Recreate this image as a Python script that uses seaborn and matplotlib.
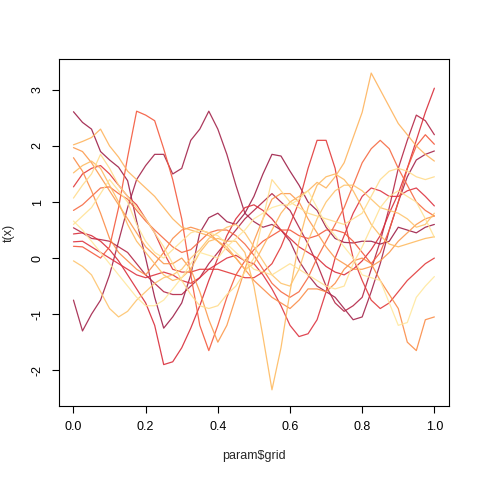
import pandas as pd
import seaborn as sns
import numpy as np
import matplotlib.pyplot as plt

# evaluation grid (param$grid) and curve values
grid = [0.0, 0.025, 0.05, 0.075, 0.1, 0.125, 0.15, 0.175, 0.2, 0.225,
        0.25, 0.275, 0.3, 0.325, 0.35, 0.375, 0.4, 0.425, 0.45, 0.475,
        0.5, 0.525, 0.55, 0.575, 0.6, 0.625, 0.65, 0.675, 0.7, 0.725,
        0.75, 0.775, 0.8, 0.825, 0.85, 0.875, 0.9, 0.925, 0.95, 0.975,
        1.0]

crimson_a = [2.61, 2.42, 2.30, 1.90, 1.75, 1.62, 1.38, 0.66, 0.00, -0.70,
             -1.25, -1.05, -0.80, -0.30, 0.45, 0.72, 0.80, 0.65, 0.60, 0.80,
             1.10, 1.50, 1.85, 1.82, 1.55, 1.30, 1.00, 0.85, 0.55, 0.35,
             0.28, 0.27, 0.30, 0.30, 0.25, 0.30, 0.55, 0.50, 0.45, 0.55,
             0.60]
crimson_b = [-0.75, -1.30, -1.00, -0.75, -0.30, 0.30, 0.90, 1.40, 1.65, 1.85,
             1.85, 1.50, 1.60, 2.10, 2.30, 2.62, 2.30, 1.85, 1.30, 0.80,
             0.65, 0.55, 0.60, 0.50, 0.30, -0.05, -0.30, -0.50, -0.60, -0.70,
             -0.90, -1.10, -1.05, -0.60, -0.10, 0.50, 1.00, 1.45, 1.75, 1.85,
             1.91]
crimson_c = [0.54, 0.45, 0.35, 0.33, 0.30, 0.20, 0.10, -0.10, -0.30, -0.45,
             -0.60, -0.65, -0.65, -0.50, -0.35, -0.10, 0.10, 0.30, 0.50, 0.70,
             0.85, 1.00, 1.15, 1.00, 0.85, 0.55, 0.25, -0.10, -0.50, -0.80,
             -0.95, -0.85, -0.70, -0.20, 0.30, 0.90, 1.60, 2.10, 2.55, 2.45,
             2.20]
red_dip = [0.43, 0.45, 0.40, 0.30, 0.15, -0.05, -0.30, -0.55, -0.80, -1.20,
           -1.90, -1.85, -1.60, -1.25, -0.85, -0.40, 0.00, 0.40, 0.70, 0.90,
           0.95, 0.85, 0.70, 0.50, 0.35, 0.20, 0.10, 0.00, -0.15, -0.25,
           -0.30, -0.20, -0.05, 0.15, 0.40, 0.80, 1.15, 1.60, 2.10, 2.60,
           3.03]
red_hump = [1.27, 1.50, 1.60, 1.65, 1.50, 1.30, 1.10, 0.95, 0.70, 0.45,
            0.10, -0.20, -0.25, -0.25, -0.20, -0.20, -0.20, -0.25, -0.30, -0.35,
            -0.35, -0.25, -0.10, 0.20, 0.60, 1.00, 1.60, 2.10, 2.10, 1.60,
            0.70, 0.00, -0.40, -0.75, -0.90, -0.80, -0.60, -0.40, -0.25, -0.10,
            0.00]
red_low = [0.29, 0.30, 0.20, 0.10, 0.00, -0.10, -0.20, -0.30, -0.35, -0.30,
           -0.25, -0.30, -0.40, -0.45, -0.35, -0.20, -0.10, 0.00, 0.05, -0.05,
           -0.10, -0.30, -0.55, -0.85, -1.20, -1.40, -1.35, -1.10, -0.60, 0.00,
           0.40, 0.80, 1.10, 1.25, 1.20, 1.10, 1.10, 1.20, 1.25, 1.10,
           0.93]
orangered_peak = [0.21, 0.20, 0.10, 0.00, 0.20, 0.90, 1.80, 2.62, 2.55, 2.45,
                  1.95, 1.40, 0.70, -0.30, -1.20, -1.65, -1.20, -0.70, -0.30, -0.05,
                  0.15, 0.30, 0.40, 0.50, 0.50, 0.40, 0.35, 0.40, 0.50, 0.50,
                  0.45, 0.30, 0.10, -0.10, 0.10, 0.50, 1.00, 1.60, 2.00, 2.20,
                  2.03]
orangered_hump = [0.85, 0.95, 1.10, 1.25, 1.27, 1.15, 1.05, 0.85, 0.66, 0.50,
                  0.35, 0.20, 0.10, 0.15, 0.30, 0.45, 0.50, 0.50, 0.40, 0.25,
                  0.05, -0.20, -0.45, -0.60, -0.70, -0.60, -0.35, 0.00, 0.30, 0.60,
                  0.90, 1.30, 1.70, 1.95, 2.10, 1.95, 1.60, 1.30, 1.00, 0.85,
                  0.75]
orange_a = [1.79, 1.55, 1.20, 0.80, 0.35, 0.10, -0.05, -0.20, -0.30, -0.10,
            0.10, 0.35, 0.50, 0.55, 0.50, 0.45, 0.30, 0.15, 0.00, -0.20,
            -0.40, -0.55, -0.70, -0.80, -0.90, -0.75, -0.55, -0.55, -0.60, -0.45,
            -0.20, -0.05, 0.00, -0.10, -0.40, -0.65, -0.90, -1.50, -1.65, -1.10,
            -1.05]
orange_b = [1.97, 1.90, 1.70, 1.45, 1.20, 0.95, 0.70, 0.45, 0.20, 0.05,
            -0.10, -0.10, 0.00, -0.20, -0.60, -1.10, -1.50, -1.20, -0.70, -0.20,
            0.30, 0.70, 1.05, 1.15, 1.15, 1.00, 0.70, 0.45, 0.20, 0.00,
            -0.10, -0.20, -0.20, -0.15, -0.05, 0.10, 0.30, 0.45, 0.60, 0.70,
            0.75]
lightorange_a = [2.02, 2.08, 2.15, 2.30, 2.00, 1.80, 1.55, 1.40, 1.25, 1.10,
                 0.90, 0.70, 0.55, 0.50, 0.45, 0.40, 0.30, 0.20, 0.00, -0.20,
                 -0.10, 0.20, 0.50, 0.80, 1.00, 1.10, 1.20, 1.35, 1.25, 1.45,
                 1.70, 2.15, 2.60, 3.30, 3.00, 2.70, 2.40, 2.20, 2.00, 1.85,
                 1.73]
lightorange_b = [1.52, 1.65, 1.73, 1.60, 1.30, 1.00, 0.60, 0.30, 0.10, -0.10,
                 -0.30, -0.40, -0.35, -0.20, 0.10, 0.30, 0.35, 0.30, 0.30, 0.10,
                 -0.50, -1.40, -2.35, -1.60, -0.60, 0.30, 0.90, 1.30, 1.45, 1.50,
                 1.40, 1.20, 0.90, 0.60, 0.40, 0.25, 0.20, 0.25, 0.30, 0.35,
                 0.38]
lightorange_c = [-0.05, -0.15, -0.30, -0.60, -0.90, -1.05, -0.95, -0.75, -0.60, -0.45,
                 -0.35, -0.30, -0.20, 0.00, 0.15, 0.35, 0.45, 0.55, 0.60, 0.45,
                 0.20, -0.05, -0.30, -0.45, -0.50, -0.20, 0.30, 0.70, 1.00, 1.20,
                 1.30, 1.30, 1.20, 1.05, 0.90, 0.85, 0.80, 0.70, 0.55, 0.60,
                 0.80]
pale_a = [1.07, 1.30, 1.50, 1.85, 1.60, 1.30, 1.10, 0.90, 0.70, 0.45,
          0.20, -0.10, -0.40, -0.65, -0.85, -0.90, -0.85, -0.65, -0.50, -0.25,
          0.00, 0.70, 1.40, 1.20, 1.00, 0.90, 0.80, 0.75, 0.70, 0.65,
          0.60, 0.70, 0.80, 1.10, 1.40, 1.55, 1.60, 1.55, 1.45, 1.40,
          1.45]
pale_b = [0.66, 0.50, 0.30, 0.10, -0.10, -0.30, -0.50, -0.70, -0.85, -0.85,
          -0.75, -0.55, -0.35, -0.10, 0.10, 0.05, 0.00, 0.20, 0.35, 0.50,
          0.70, 0.80, 0.90, 0.95, 0.95, 1.05, 1.20, 0.90, 0.60, 0.40,
          0.20, 0.00, -0.30, -0.35, -0.40, -0.80, -1.20, -1.15, -0.70, -0.50,
          -0.33]
pale_c = [0.60, 0.75, 0.90, 1.15, 1.40, 1.20, 1.00, 0.60, 0.30, 0.10,
          0.00, 0.15, 0.30, 0.45, 0.50, 0.45, 0.40, 0.25, 0.10, -0.05,
          -0.20, -0.25, -0.30, -0.20, -0.10, -0.20, -0.30, -0.40, -0.50, -0.55,
          -0.50, -0.10, 0.20, 0.55, 0.90, 1.10, 1.20, 1.10, 1.00, 0.70,
          0.37]

curves = {
    'crimson_a': crimson_a, 'crimson_b': crimson_b, 'crimson_c': crimson_c,
    'red_dip': red_dip, 'red_hump': red_hump, 'red_low': red_low,
    'orangered_peak': orangered_peak, 'orangered_hump': orangered_hump,
    'orange_a': orange_a, 'orange_b': orange_b,
    'lightorange_a': lightorange_a, 'lightorange_b': lightorange_b,
    'lightorange_c': lightorange_c,
    'pale_a': pale_a, 'pale_b': pale_b, 'pale_c': pale_c,
}
colours = {
    'crimson_a': '#9E1F48', 'crimson_b': '#A3244B', 'crimson_c': '#B42646',
    'red_dip': '#D92D3A', 'red_hump': '#E23A3A', 'red_low': '#DD3340',
    'orangered_peak': '#F4593D', 'orangered_hump': '#F66A42',
    'orange_a': '#FB8D48', 'orange_b': '#FC9A4E',
    'lightorange_a': '#FEB45E', 'lightorange_b': '#FEBB62',
    'lightorange_c': '#FEC46E',
    'pale_a': '#FFDC8C', 'pale_b': '#FFE89E', 'pale_c': '#FFE294',
}

df = pd.DataFrame([
    {'grid': g, 'value': v, 'curve': name}
    for name, vals in curves.items() for g, v in zip(grid, vals)
])

sns.set_style('white')
plt.rcParams['font.family'] = ['Liberation Sans', 'DejaVu Sans']

fig = plt.figure(figsize=(4.8, 4.8), dpi=100)
ax = fig.add_axes([0.123, 0.154, 0.812, 0.723])

sns.lineplot(data=df, x='grid', y='value', hue='curve', palette=colours,
             legend=False, linewidth=0.9, alpha=0.9, estimator=None, ax=ax)

ax.set_xlim(-0.04, 1.04)
ax.set_ylim(-2.64, 3.55)
ax.set_xticks([0.0, 0.2, 0.4, 0.6, 0.8, 1.0])
ax.set_xticklabels(['0.0', '0.2', '0.4', '0.6', '0.8', '1.0'])
ax.set_yticks([-2, -1, 0, 1, 2, 3])
ax.set_yticklabels(['-2', '-1', '0', '1', '2', '3'], rotation=90, va='center')
ax.tick_params(direction='out', length=5, width=0.8, colors='black',
               labelsize=9, pad=6, bottom=True, left=True)
for s in ax.spines.values():
    s.set_color('black')
    s.set_linewidth(0.8)

ax.set_xlabel(r'param\$grid', fontsize=9, labelpad=12)
ax.set_ylabel('t(x)', fontsize=9, labelpad=12)

fig.savefig('out.png', dpi=100, facecolor='white')
